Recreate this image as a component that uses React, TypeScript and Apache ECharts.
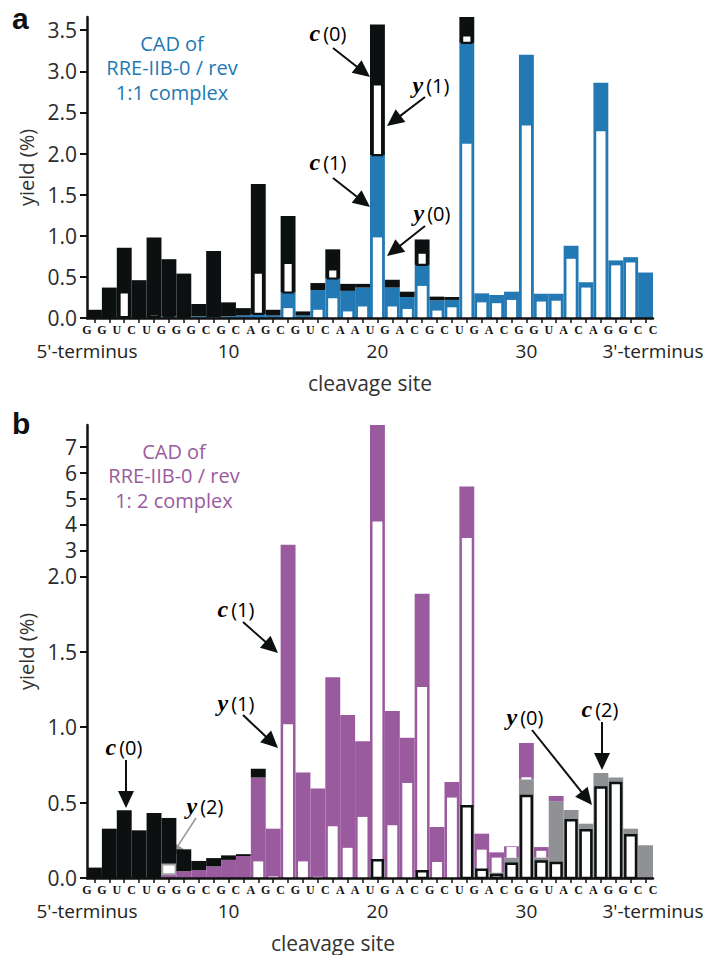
import React, { useEffect, useRef } from "react";
import * as echarts from "echarts";

// ---------- data ----------
const sites = ["1","2","3","4","5","6","7","8","9","10","11","12","13","14","15","16","17","18","19","20","21","22","23","24","25","26","27","28","29","30","31","32","33","34","35","36","37","38"];
const nucleotides = ["G","G","U","C","U","G","G","G","C","G","C","A","G","C","G","U","C","A","A","U","G","A","C","G","C","U","G","A","C","G","G","U","A","C","A","G","G","C","C"];
const terminusLabels = ["5'-terminus", "3'-terminus"];
const xNumberLabels = ["10", "20", "30"];
const titleA = ["CAD of", "RRE-IIB-0 / rev", "1:1 complex"];
const titleB = ["CAD of", "RRE-IIB-0 / rev", "1: 2 complex"];

// panel a : RRE-IIB-0 / rev 1:1 complex (yield %)
const aC1 = [0,0,0.01,0,0.01,0.02,0.01,0.02,0.01,0.02,0.03,0.05,0.03,0.31,0.03,0.34,0.48,0.33,0.37,1.98,0.37,0.255,0.645,0.215,0.22,3.345,0.30,0.28,0.32,3.20,0.295,0.295,0.88,0.435,2.86,0.70,0.74,0.553];
const aC0 = [0.10,0.37,0.845,0.46,0.97,0.695,0.53,0.15,0.805,0.17,0.09,1.58,0.07,0.93,0.05,0.085,0.355,0.085,0.045,1.59,0.095,0.065,0.31,0.045,0.035,0.315,0,0,0,0,0,0,0,0,0,0,0,0];
const aY0 = [0,0,0,0,0,0,0,0,0,0,0,0,0,0.12,0,0.10,0.24,0.08,0.14,0.98,0.14,0.11,0.39,0.09,0.13,2.12,0.19,0.18,0.22,2.34,0.20,0.21,0.72,0.37,2.27,0.64,0.675,0];
const aY1 = [0,0,0.30,0,0.03,0.025,0.02,0,0,0,0,0.50,0,0.36,0,0,0.11,0,0,0.86,0,0,0.15,0,0,0.09,0,0,0,0,0,0,0,0,0,0,0,0];
const aTicks = [0, 0.5, 1, 1.5, 2, 2.5, 3, 3.5];

// panel b : RRE-IIB-0 / rev 1:2 complex (yield %)
const bC2 = [0,0,0,0,0,0,0,0,0,0,0,0,0,0,0,0,0,0,0,0.11,0,0,0.04,0,0,0.47,0.06,0.035,0.135,0.653,0.135,0.508,0.45,0.36,0.696,0.666,0.327,0.217];
const bC1 = [0,0,0,0,0,0.025,0.045,0.052,0.077,0.12,0.146,0.666,0.327,3.22,0.70,0.593,1.33,1.08,0.906,7.73,1.107,0.93,1.845,0.338,0.637,5.0,0.234,0.135,0.075,0.242,0.07,0.036,0,0,0,0,0,0];
const bC0 = [0.069,0.327,0.449,0.316,0.431,0.373,0.145,0.061,0.055,0.03,0.012,0.059,0,0,0,0,0,0,0,0,0,0,0,0,0,0,0,0,0,0,0,0,0,0,0,0,0,0];
const bY0 = [0,0,0,0,0,0,0,0,0,0,0,0,0,0,0,0,0,0,0,0.117,0,0,0.045,0,0,0.475,0.055,0.02,0.095,0.544,0.11,0.10,0.383,0.316,0.60,0.63,0.283,0];
const bY1 = [0,0,0,0,0,0,0,0,0,0,0,0.11,0.01,1.02,0.11,0.008,0.343,0.20,0.405,4.01,0.35,0.63,1.227,0.106,0.533,3.01,0.128,0.10,0.07,0.015,0.045,0,0,0,0,0,0,0];
const bY2 = [0,0,0,0,0,0.065,0,0,0,0,0,0,0,0,0,0,0,0,0,0,0,0,0,0,0,0,0,0,0,0,0,0,0,0,0,0,0,0];
const bTicks = [0, 0.5, 1, 1.5, 2, 3, 4, 5, 6, 7];
const bMax = 7.84;

// ---------- style ----------
const BLACK = "#0d1010";
const BLUE = "#2379b4";
const PURPLE = "#9a5b9e";
const GREY = "#8f9194";
const FONT = "'Open Sans', 'DejaVu Sans', sans-serif";
const BREAK = 2;
const UPPER = 25.9 / 150.8;
const tf = (v: number) => (v <= BREAK ? v : BREAK + (v - BREAK) * UPPER);
const inv = (t: number) => (t <= BREAK + 1e-9 ? t : BREAK + (t - BREAK) / UPPER);

function makeSeg(api: any, i: number, map: (v: number) => number) {
  const x = api.coord([i, 0])[0];
  const bw = api.size([1, 0])[0];
  return (lo: number, hi: number, frac: number, style: any) => {
    const yLo = api.coord([i, map(lo)])[1];
    const yHi = api.coord([i, map(hi)])[1];
    const w = bw * frac;
    return { type: "rect", shape: { x: x - w / 2, y: yHi, width: w, height: yLo - yHi }, style };
  };
}

const renderA = (params: any, api: any) => {
  const i = params.dataIndex;
  const seg = makeSeg(api, i, (v) => v);
  const b = aC1[i], k = aC0[i], y0 = aY0[i], y1 = aY1[i];
  const ch: any[] = [];
  if (b > 0) ch.push(seg(0, b, 1, { fill: BLUE }));
  if (k > 0) ch.push(seg(b, b + k, 1, { fill: BLACK }));
  if (y0 > 0) ch.push(seg(0, y0, 0.62, { fill: "#ffffff" }));
  if (y1 > 0) ch.push(seg(b, b + y1, 0.63, { fill: "#ffffff", stroke: BLACK, lineWidth: 2.2 }));
  return { type: "group", children: ch };
};

const renderB = (params: any, api: any) => {
  const i = params.dataIndex;
  const seg = makeSeg(api, i, tf);
  const g = bC2[i], p = bC1[i], k = bC0[i], y0 = bY0[i], y1 = bY1[i], y2 = bY2[i];
  const ch: any[] = [];
  if (g > 0) ch.push(seg(0, g, 1, { fill: GREY }));
  if (p > 0) ch.push(seg(g, g + p, 1, { fill: PURPLE }));
  if (k > 0) ch.push(seg(g + p, g + p + k, 1, { fill: BLACK }));
  if (y1 > 0) ch.push(seg(g, g + y1, 0.66, { fill: "#ffffff" }));
  if (y2 > 0) ch.push(seg(g + p, g + p + y2, 0.9, { fill: "#ffffff", stroke: "#a3a3a3", lineWidth: 2 }));
  if (y0 > 0) ch.push(seg(0, y0, 0.72, { fill: "#ffffff", stroke: BLACK, lineWidth: 2.5 }));
  return { type: "group", children: ch };
};

function arrow(x1: number, y1: number, x2: number, y2: number, color = BLACK, lw = 2, hl = 17, hw = 16) {
  const dx = x2 - x1, dy = y2 - y1;
  const len = Math.hypot(dx, dy);
  const ux = dx / len, uy = dy / len;
  const bx = x2 - ux * hl, by = y2 - uy * hl;
  const px = -uy, py = ux;
  return [
    { type: "line", silent: true, shape: { x1, y1, x2: bx + ux * 2, y2: by + uy * 2 }, style: { stroke: color, lineWidth: lw } },
    { type: "polygon", silent: true, shape: { points: [[x2, y2], [bx + (px * hw) / 2, by + (py * hw) / 2], [bx - (px * hw) / 2, by - (py * hw) / 2]] }, style: { fill: color } },
  ];
}

const ionRich = {
  i: { fontFamily: "'Liberation Serif', 'DejaVu Serif', serif", fontStyle: "italic", fontWeight: "bold", fontSize: 24, color: BLACK },
  n: { fontFamily: FONT, fontSize: 20, color: BLACK, padding: [0, 0, 0, 3] },
};
function ionLabel(letter: string, num: string, x: number, y: number) {
  return {
    type: "text", silent: true, x, y,
    style: { text: `{i|${letter}}{n|(${num})}`, rich: ionRich, align: "center", verticalAlign: "middle" },
  };
}

function titleLines(lines: string[], x: number, yFirst: number, step: number, color: string) {
  return lines.map((t, k) => ({
    type: "text", silent: true, x, y: yFirst + k * step,
    style: { text: t, fontSize: 20, fontFamily: FONT, fill: color, align: "center", verticalAlign: "middle" },
  }));
}

function siteAxis(gridIndex: number, namePad: number[]) {
  return {
    type: "category", gridIndex, data: sites, boundaryGap: true, position: "bottom", z: 10,
    axisLine: { show: true, lineStyle: { color: "#111", width: 2.5 } },
    axisTick: { show: true, alignWithLabel: true, interval: 0, length: 5, lineStyle: { color: "#111", width: 1.5 } },
    axisLabel: {
      interval: 0, margin: 22, fontSize: 19, lineHeight: 22, fontFamily: FONT, color: "#222",
      formatter: (v: string) => (xNumberLabels.includes(v) ? v : ""),
    },
    splitLine: { show: false },
    name: "cleavage site", nameLocation: "middle", nameGap: 54,
    nameTextStyle: { fontSize: 21, fontFamily: FONT, color: "#333", padding: namePad },
  };
}

function letterAxis(gridIndex: number) {
  return {
    type: "category", gridIndex, data: nucleotides, boundaryGap: false, position: "bottom", z: 10,
    axisLine: { show: false }, axisTick: { show: false }, splitLine: { show: false },
    axisLabel: {
      interval: 0, margin: 6, fontFamily: "'Liberation Serif', 'DejaVu Serif', serif", fontWeight: "bold",
      fontSize: 12, lineHeight: 12, color: "#111",
    },
  };
}

function terminusAxis(gridIndex: number) {
  const last = nucleotides.length - 1;
  return {
    type: "category", gridIndex, data: nucleotides, boundaryGap: false, position: "bottom", z: 10,
    axisLine: { show: false }, axisTick: { show: false }, splitLine: { show: false },
    axisLabel: {
      interval: 0, margin: 22, fontFamily: FONT, fontSize: 19, lineHeight: 22, color: "#222",
      formatter: (_v: string, idx: number) => (idx === 0 ? terminusLabels[0] : idx === last ? terminusLabels[1] : ""),
    },
  };
}

function yAxis(gridIndex: number, max: number, ticks: number[], fmt: (v: number) => string) {
  return {
    type: "value", gridIndex, min: 0, max, z: 10,
    axisLine: { show: true, lineStyle: { color: "#111", width: 2.5 } },
    axisTick: { show: true, length: 7, lineStyle: { color: "#111", width: 2 }, customValues: ticks },
    axisLabel: { customValues: ticks, formatter: fmt, margin: 10, fontSize: 21, fontFamily: FONT, color: "#2b2b2b" },
    splitLine: { show: false },
    name: "yield (%)", nameLocation: "middle", nameGap: 44, nameRotate: 90,
    nameTextStyle: { fontSize: 20, fontFamily: FONT, color: "#333" },
  };
}

export default function App() {
  const ref = useRef<HTMLDivElement>(null);
  useEffect(() => {
    document.body.style.margin = "0";
    const chart = echarts.init(ref.current!, null, { renderer: "svg" });
    const option: any = {
      animation: false,
      grid: [
        { left: 87, right: 56, top: 17, height: 301 },
        { left: 87, right: 56, top: 425, height: 453 },
      ],
      xAxis: [
        siteAxis(0, [0, 0, 0, 0]), letterAxis(0), terminusAxis(0),
        siteAxis(1, [0, 74, 0, 0]), letterAxis(1), terminusAxis(1),
      ],
      yAxis: [
        yAxis(0, 3.66, aTicks, (v: number) => v.toFixed(1)),
        yAxis(1, tf(bMax), bTicks.map(tf), (v: number) => {
          const r = Math.round(inv(v) * 10) / 10;
          return r <= BREAK ? r.toFixed(1) : String(Math.round(r));
        }),
      ],
      series: [
        {
          type: "custom", xAxisIndex: 0, yAxisIndex: 0, silent: true, renderItem: renderA,
          encode: { x: 0, y: 1 }, data: sites.map((_, i) => [i, aC1[i] + aC0[i]]),
        },
        {
          type: "custom", xAxisIndex: 3, yAxisIndex: 1, silent: true, renderItem: renderB,
          encode: { x: 0, y: 1 }, data: sites.map((_, i) => [i, tf(bC2[i] + bC1[i] + bC0[i])]),
        },
      ],
      graphic: [
        { type: "text", silent: true, x: 12, y: 18, style: { text: "a", fontSize: 30, fontWeight: "bold", fontFamily: "'Liberation Sans', Arial, sans-serif", fill: "#111", verticalAlign: "middle" } },
        { type: "text", silent: true, x: 12, y: 423, style: { text: "b", fontSize: 30, fontWeight: "bold", fontFamily: "'Liberation Sans', Arial, sans-serif", fill: "#111", verticalAlign: "middle" } },
        ...titleLines(titleA, 172, 43, 24.5, BLUE),
        ...titleLines(titleB, 174, 451, 24.5, PURPLE),
        // panel a annotations
        ionLabel("c", "0", 328, 33), ...arrow(333, 48, 370, 77),
        ionLabel("y", "1", 431, 85), ...arrow(425, 97, 387, 126),
        ionLabel("c", "1", 328, 162), ...arrow(333, 178, 370, 207),
        ionLabel("y", "0", 432, 213), ...arrow(425, 226, 387, 256),
        // panel b annotations
        ionLabel("c", "1", 236, 609), ...arrow(243, 622, 278, 653),
        ionLabel("y", "1", 236, 703), ...arrow(243, 715, 278, 748),
        ionLabel("c", "0", 124, 747), ...arrow(126, 760, 126, 808),
        ionLabel("y", "2", 205, 806), ...arrow(196, 818, 170, 858, "#9a9a9a", 1.6, 15, 14),
        ionLabel("y", "0", 525, 717), ...arrow(532, 730, 592, 805),
        ionLabel("c", "2", 600, 709), ...arrow(602, 722, 602, 770),
      ],
    };
    chart.setOption(option);
    return () => chart.dispose();
  }, []);
  return <div ref={ref} style={{ width: 709, height: 955 }} />;
}
